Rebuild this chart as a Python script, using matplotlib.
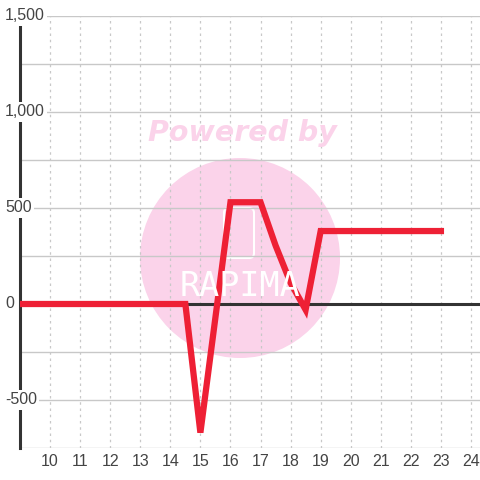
import matplotlib
matplotlib.use("Agg")
import matplotlib.pyplot as plt
from matplotlib.patches import Circle, FancyBboxPatch
from matplotlib.transforms import blended_transform_factory

# values
hours = [9, 14.5, 15, 16, 17, 17.5, 18, 18.5, 19, 23]
values = [0, 0, -670, 530, 530, 305, 110, -30, 380, 380]

x_ticks = list(range(10, 25))
y_major = [-500, 0, 500, 1000, 1500]
y_labels = ["-500", "0", "500", "1,000", "1,500"]
y_minor = [-750, -250, 250, 750, 1250]

plt.rcParams['font.family'] = ['Liberation Sans', 'DejaVu Sans']

fig = plt.figure(figsize=(4.8, 4.8), dpi=100)
ax = fig.add_axes([20/480, 32/480, 460/480, 432/480])
ax.set_xlim(9, 24.3)
ax.set_ylim(-750, 1500)

# watermark
wm = '#fbd3ea'
ax.add_patch(Circle((240/480, 1 - 258/480), 100/480, transform=fig.transFigure,
                    facecolor=wm, edgecolor='none', zorder=0.5, clip_on=False))
ax.add_patch(FancyBboxPatch((224/480, 1 - 258/480), 30/480, 50/480,
                            boxstyle="round,pad=0,rounding_size=0.01",
                            transform=fig.transFigure, facecolor='none',
                            edgecolor='white', lw=1.5, zorder=0.6, clip_on=False))
fig.text(242/480, 1 - 133/480, "Powered by", color=wm, fontsize=20.5,
         fontweight='heavy', fontstyle='italic', family='DejaVu Sans',
         ha='center', va='center', zorder=0.6)
fig.text(240/480, 1 - 287/480, "RAPIMA", color='white', fontsize=24,
         family='DejaVu Sans Mono', ha='center', va='center', zorder=0.6)

# grid
for yv in y_major + y_minor:
    ax.axhline(yv, color='#c8c8c8', lw=1, zorder=1)
for xv in x_ticks:
    ax.axvline(xv, color='#c8c8c8', lw=0.9, ls=(0, (2, 3)), zorder=1)

ax.axhline(0, color='#333333', lw=2.2, zorder=1.8)
ax.axvline(9, ymin=0, ymax=(1458 + 750) / 2250, color='#333333', lw=2.2,
           zorder=1.8, clip_on=False)

ax.plot(hours, values, color='#ee2035', lw=4.5, solid_capstyle='projecting',
        solid_joinstyle='miter', zorder=3)

# y labels sit over the axis line
lab_tr = blended_transform_factory(fig.transFigure, ax.transData)
for yv, lab in zip(y_major, y_labels):
    ax.text(5/480, yv, lab, transform=lab_tr, ha='left', va='center',
            fontsize=11.5, color='#444444', zorder=4,
            bbox=dict(facecolor='white', edgecolor='none', pad=1.5))

ax.set_xticks(x_ticks)
ax.set_yticks([])
ax.tick_params(axis='x', length=0, pad=4, labelsize=11.5, labelcolor='#444444')
for s in ax.spines.values():
    s.set_visible(False)

fig.savefig("out.png", dpi=100)
